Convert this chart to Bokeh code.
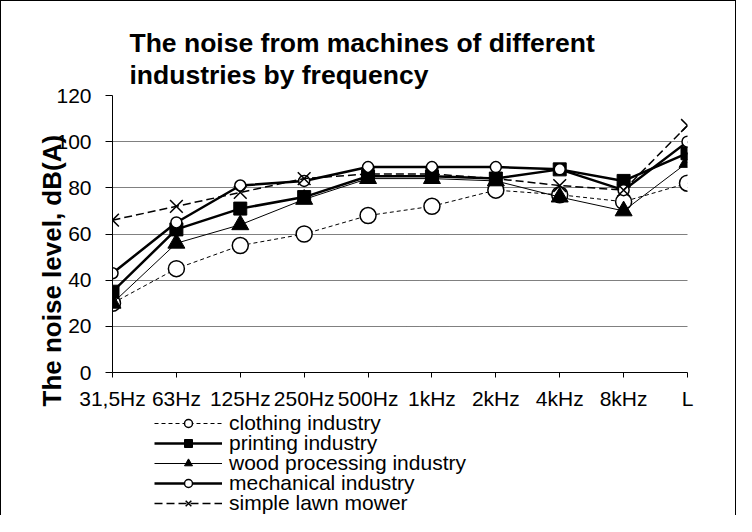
from bokeh.plotting import figure
from bokeh.layouts import column
from bokeh.models import Range1d, FixedTicker, Title, Legend, LegendItem
from bokeh.embed import file_html
from bokeh.resources import INLINE

categories = ["31,5Hz", "63Hz", "125Hz", "250Hz", "500Hz", "1kHz", "2kHz", "4kHz", "8kHz", "L"]
clothing = [30, 45, 55, 60, 68, 72, 79, 77, 74, 82]
printing = [35, 62, 71, 76, 85, 85, 84, 88, 83, 95]
wood = [30, 56, 64, 75, 84, 84, 83, 76, 70, 91]
mechanical = [43, 65, 81, 83, 89, 89, 89, 88, 79, 100]
lawn_mower = [66, 72, 78, 84, 86, 86, 84, 81, 79, 107]
y_ticks = [0, 20, 40, 60, 80, 100, 120]
grid_ticks = [20, 40, 60, 80, 100]

series_names = ["clothing industry", "printing industry", "wood processing industry",
                "mechanical industry", "simple lawn mower"]
title_text = "The noise from machines of different\nindustries by frequency"
y_label = "The noise level, dB(A)"

FONT = "Liberation Sans"
x = list(range(len(categories)))

# series styles (line kwargs, marker kwargs)
styles = [
    (dict(line_width=1, line_dash="4 3"),
     dict(marker="circle", size=16, fill_color="white", line_width=1.5)),
    (dict(line_width=2.5),
     dict(marker="square", size=13, fill_color="black")),
    (dict(line_width=1),
     dict(marker="triangle", size=17, fill_color="black")),
    (dict(line_width=2.5),
     dict(marker="circle", size=11, fill_color="white", line_width=1.5)),
    (dict(line_width=1.5, line_dash="8 4"),
     dict(marker="x", size=18, line_width=1.5)),
]
series = [clothing, printing, wood, mechanical, lawn_mower]

p = figure(width=736, height=411, output_backend="svg", toolbar_location=None,
           x_range=Range1d(0, len(categories) - 1), y_range=Range1d(0, 120),
           min_border_left=111, min_border_right=50, min_border_top=94, min_border_bottom=39,
           title=None)
p.styles = {"border-top": "1px solid #000000", "border-left": "1px solid #000000",
            "border-right": "1px solid #000000"}
p.outline_line_color = None
p.background_fill_color = "white"
p.border_fill_color = "white"
p.xgrid.visible = False
p.ygrid.ticker = FixedTicker(ticks=grid_ticks)
p.ygrid.grid_line_color = "black"
p.ygrid.grid_line_dash = "1 1"
p.ygrid.grid_line_width = 1

p.xaxis.ticker = FixedTicker(ticks=x)
p.xaxis.major_label_overrides = {i: c for i, c in enumerate(categories)}
p.yaxis.ticker = FixedTicker(ticks=y_ticks)
for ax in (p.xaxis[0], p.yaxis[0]):
    ax.axis_line_color = "black"
    ax.axis_line_width = 1
    ax.major_tick_line_color = "black"
    ax.major_tick_in = 0
    ax.minor_tick_line_color = None
    ax.major_label_text_font = FONT
    ax.major_label_text_font_size = "21px"
    ax.major_label_text_color = "black"
p.xaxis.major_tick_out = 5
p.xaxis.major_label_standoff = 9
p.yaxis.major_tick_out = 7
p.yaxis.major_label_standoff = 14

for vals, (lkw, mkw) in zip(series, styles):
    p.line(x, vals, line_color="black", **lkw)
    p.scatter(x, vals, line_color="black", **mkw)

# two-line title
p.add_layout(Title(text=title_text, text_font=FONT, text_font_size="26.5px",
                   text_font_style="bold", text_color="black", text_line_height=1.07,
                   align="left", offset=17, standoff=10), "above")

# y axis label as a title on the left
p.add_layout(Title(text=y_label, text_font=FONT, text_font_size="26px", text_font_style="bold",
                   text_color="black", align="left", offset=-34, standoff=-27), "left")

# legend strip below the chart (its frame lines up with the chart's frame)
q = figure(width=736, height=104, output_backend="svg", toolbar_location=None,
           x_range=Range1d(0, len(categories) - 1), y_range=Range1d(-2, -1),
           x_axis_location=None, y_axis_location=None,
           min_border_left=0, min_border_right=0, min_border_top=0, min_border_bottom=0,
           title=None)
q.styles = {"border-left": "1px solid #000000", "border-right": "1px solid #000000"}
q.outline_line_color = None
q.grid.visible = False
q.background_fill_color = "white"
q.border_fill_color = "white"
for i, (name, vals, (lkw, mkw)) in enumerate(zip(series_names, series, styles)):
    # the series are drawn here too but lie outside this strip's visible y range
    lr = q.line(x, vals, line_color="black", **lkw)
    sr = q.scatter(x, vals, line_color="black", **mkw)
    leg = Legend(items=[LegendItem(label=name, renderers=[lr, sr])],
                 location=(42, 80 - 20 * i), orientation="vertical",
                 glyph_width=68, glyph_height=20, label_height=20, label_standoff=7,
                 spacing=0, padding=0, margin=0, border_line_color=None,
                 background_fill_alpha=0, label_text_font=FONT, label_text_font_size="21px",
                 label_text_color="black", label_text_baseline="middle")
    q.add_layout(leg, "center")

layout = column(p, q, spacing=0)
open("out.html", "w").write(file_html(layout, INLINE))
